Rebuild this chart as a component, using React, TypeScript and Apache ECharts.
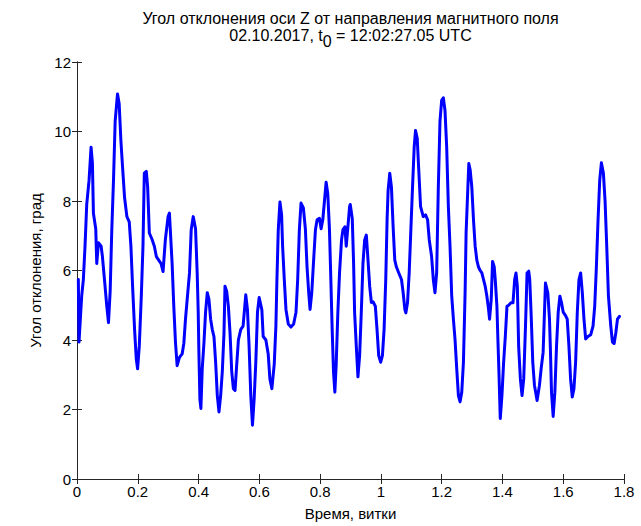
import React, { useEffect, useRef } from "react";
import * as echarts from "echarts";

const titleLine1 = "Угол отклонения оси Z от направления магнитного поля";
const titleLine2Prefix = "02.10.2017, ";
const titleLine2Var = "t";
const titleLine2Sub = "0";
const titleLine2Suffix = " = 12:02:27.05 UTC";
const xAxisName = "Время, витки";
const yAxisName = "Угол отклонения, град";

const xMin = 0;
const xMax = 1.8;
const xStep = 0.2;
const yMin = 0;
const yMax = 12;
const yStep = 2;

// time, turns
const timeTurns = [
  0.0044, 0.0066, 0.0154, 0.0209, 0.0264, 0.032, 0.0397, 0.0463, 0.0507, 0.054,
  0.0617, 0.065, 0.0705, 0.0793, 0.0837, 0.0904, 0.0981, 0.1036, 0.1091, 0.1146,
  0.1201, 0.1256, 0.1333, 0.1388, 0.1444, 0.1499, 0.1565, 0.1642, 0.1719, 0.1774,
  0.1829, 0.1895, 0.195, 0.1994, 0.205, 0.2116, 0.2171, 0.2215, 0.2281, 0.2325,
  0.238, 0.2468, 0.2545, 0.2612, 0.2689, 0.2766, 0.2832, 0.2909, 0.2997, 0.3041,
  0.313, 0.3185, 0.324, 0.3295, 0.3372, 0.346, 0.3515, 0.357, 0.3626, 0.3702,
  0.3758, 0.3824, 0.3901, 0.3956, 0.3989, 0.4011, 0.4044, 0.4077, 0.4121, 0.4176,
  0.4231, 0.4287, 0.4342, 0.4397, 0.4452, 0.4507, 0.4562, 0.4617, 0.4672, 0.4727,
  0.4782, 0.4837, 0.487, 0.4926, 0.4981, 0.5036, 0.5091, 0.5146, 0.5201, 0.5256,
  0.5311, 0.5388, 0.5465, 0.5521, 0.5554, 0.5609, 0.5664, 0.5719, 0.5774, 0.5829,
  0.5884, 0.5939, 0.5994, 0.6083, 0.6127, 0.6215, 0.6292, 0.6347, 0.6413, 0.649,
  0.6545, 0.6579, 0.6623, 0.6678, 0.6733, 0.6766, 0.6821, 0.6876, 0.6953, 0.7041,
  0.7129, 0.7207, 0.7262, 0.7317, 0.7372, 0.7449, 0.7515, 0.757, 0.7625, 0.7669,
  0.7725, 0.778, 0.7846, 0.7901, 0.7978, 0.8033, 0.8088, 0.8143, 0.8198, 0.8253,
  0.8308, 0.8353, 0.8397, 0.8441, 0.8485, 0.8529, 0.8584, 0.8639, 0.8705, 0.875,
  0.8816, 0.886, 0.8915, 0.897, 0.8992, 0.9058, 0.9102, 0.9135, 0.919, 0.9245,
  0.93, 0.9355, 0.941, 0.9466, 0.9521, 0.9576, 0.9631, 0.9686, 0.9741, 0.9818,
  0.9873, 0.9928, 0.9994, 1.005, 1.0105, 1.016, 1.0204, 1.0237, 1.0292, 1.0347,
  1.0402, 1.0457, 1.0512, 1.0589, 1.0678, 1.0733, 1.0788, 1.0821, 1.0876, 1.0931,
  1.0986, 1.1041, 1.1096, 1.114, 1.1196, 1.124, 1.1306, 1.1394, 1.1471, 1.1537,
  1.1592, 1.1669, 1.1725, 1.178, 1.1835, 1.189, 1.1945, 1.2, 1.2055, 1.211,
  1.2165, 1.222, 1.2275, 1.2331, 1.2386, 1.2441, 1.2496, 1.2551, 1.2606, 1.2661,
  1.2716, 1.2771, 1.2804, 1.2849, 1.2893, 1.2937, 1.2992, 1.3047, 1.3102, 1.3157,
  1.3212, 1.3267, 1.3322, 1.3377, 1.3432, 1.3488, 1.3543, 1.3576, 1.3631, 1.3675,
  1.373, 1.3763, 1.3818, 1.3851, 1.3884, 1.3928, 1.3983, 1.4039, 1.4094, 1.4149,
  1.4204, 1.4281, 1.4347, 1.4402, 1.4446, 1.449, 1.4534, 1.459, 1.4645, 1.47,
  1.4755, 1.481, 1.4865, 1.4898, 1.4942, 1.4998, 1.5053, 1.514, 1.5218, 1.5273,
  1.5339, 1.5383, 1.5416, 1.5493, 1.5548, 1.5581, 1.5614, 1.5669, 1.5725, 1.578,
  1.5835, 1.589, 1.5945, 1.6, 1.6077, 1.6132, 1.6187, 1.6242, 1.6298, 1.6353,
  1.6408, 1.6463, 1.6518, 1.6573, 1.6628, 1.6683, 1.6738, 1.6815, 1.6904, 1.6981,
  1.7036, 1.7091, 1.7146, 1.7201, 1.7256, 1.7322, 1.7377, 1.7432, 1.7488, 1.7565,
  1.762, 1.7675, 1.773, 1.7785, 1.7851,
];

// deflection angle, degrees
const angleDeg = [
  5.74, 3.94, 5.26, 5.74, 6.7, 7.9, 8.6, 9.55, 9.1, 7.65,
  7.2, 6.2, 6.8, 6.7, 6.4, 5.74, 4.97, 4.5, 5.4, 7.2,
  8.6, 10.3, 11.08, 10.8, 9.74, 8.98, 8.1, 7.55, 7.4, 6.7,
  5.55, 4.3, 3.46, 3.17, 3.83, 5.26, 6.7, 8.8, 8.85, 8.4,
  7.08, 6.9, 6.7, 6.4, 6.3, 6.2, 5.97, 6.9, 7.55, 7.65,
  6.2, 4.97, 3.94, 3.26, 3.5, 3.6, 3.9, 4.6, 5.17, 5.93,
  7.17, 7.55, 7.2, 5.9, 4.8, 3.65, 2.3, 2.03, 3.17, 3.9,
  4.8, 5.36, 5.17, 4.6, 4.3, 4.1, 3.36, 2.4, 1.93, 2.4,
  3.1, 4.2, 5.55, 5.4, 4.97, 4.2, 3.1, 2.6, 2.55, 3.3,
  4.0, 4.3, 4.4, 4.97, 5.3, 4.87, 3.8, 2.4, 1.55, 2.3,
  3.36, 4.8, 5.22, 4.87, 4.1, 4.0, 3.6, 2.88, 2.6, 3.3,
  4.4, 5.74, 7.17, 7.97, 7.6, 6.7, 5.74, 4.88, 4.46, 4.37,
  4.46, 4.8, 5.74, 7.17, 7.94, 7.8, 7.2, 6.1, 5.36, 4.88,
  5.36, 6.2, 7.17, 7.46, 7.5, 7.2, 7.46, 8.0, 8.54, 8.2,
  7.17, 5.74, 4.3, 3.08, 2.5, 3.3, 4.8, 5.93, 6.88, 7.17,
  7.26, 6.7, 7.26, 7.84, 7.9, 7.5, 6.2, 4.8, 3.83, 2.94,
  3.55, 4.8, 6.2, 6.88, 7.02, 6.3, 5.55, 5.08, 5.1, 4.97,
  4.3, 3.55, 3.36, 3.55, 4.3, 5.74, 7.46, 8.3, 8.8, 8.4,
  7.27, 6.3, 6.1, 5.93, 5.74, 5.36, 4.88, 4.78, 5.07, 5.93,
  7.17, 8.4, 9.55, 10.03, 9.8, 9.0, 7.84, 7.55, 7.6, 7.46,
  6.88, 6.4, 5.74, 5.36, 5.93, 8.4, 10.3, 10.9, 10.97, 10.6,
  9.55, 7.84, 6.7, 5.26, 4.6, 4.0, 3.17, 2.4, 2.22, 2.5,
  3.36, 5.36, 7.08, 8.1, 9.08, 8.9, 8.4, 7.46, 6.7, 6.3,
  6.1, 6.0, 5.93, 5.74, 5.55, 5.26, 4.88, 4.6, 5.17, 6.26,
  6.1, 5.74, 4.97, 4.0, 3.1, 1.74, 2.4, 3.36, 4.1, 4.97,
  5.0, 5.07, 5.07, 5.74, 5.93, 5.55, 3.8, 2.88, 2.4, 2.88,
  4.3, 5.93, 5.98, 5.74, 4.8, 3.36, 2.7, 2.26, 2.7, 3.17,
  3.65, 4.8, 5.64, 5.36, 4.6, 3.65, 2.5, 1.8, 2.5, 3.83,
  4.8, 5.26, 5.07, 4.8, 4.7, 4.6, 3.83, 2.88, 2.36, 2.6,
  3.36, 4.8, 5.74, 5.93, 5.36, 4.6, 4.03, 4.1, 4.15, 4.4,
  4.97, 6.1, 7.46, 8.6, 9.1, 8.8, 8.0, 6.7, 5.26, 4.4,
  3.94, 3.9, 4.2, 4.6, 4.68,
];

const W = 641;
const H = 526;
const gridLeft = 77;
const gridRight = 17;
const gridTop = 62;
const gridBottom = 45;
const frameColor = "#262626";
const fontFamily = "'Liberation Sans', Arial, sans-serif";
const titleSize = 16;
const labelSize = 15;

export default function App() {
  const ref = useRef<HTMLDivElement>(null);

  useEffect(() => {
    if (!ref.current) return;
    const chart = echarts.init(ref.current, undefined, { renderer: "svg" });
    const data = timeTurns.map((t, i) => [t, angleDeg[i]]);
    const plotCenterX = gridLeft + (W - gridLeft - gridRight) / 2;

    const axisCommon = {
      axisLine: { show: true, lineStyle: { color: frameColor, width: 1 } },
      axisTick: { show: true, inside: true, length: 5, lineStyle: { color: frameColor } },
      splitLine: { show: false },
    };

    chart.setOption({
      animation: false,
      backgroundColor: "#ffffff",
      textStyle: { fontFamily },
      grid: { left: gridLeft, right: gridRight, top: gridTop, bottom: gridBottom, containLabel: false },
      graphic: [
        {
          type: "text",
          x: plotCenterX,
          y: 18,
          style: {
            text: titleLine1,
            textAlign: "center",
            textVerticalAlign: "middle",
            fontSize: titleSize,
            fontFamily,
            fill: "#000",
          },
        },
        {
          type: "text",
          x: plotCenterX,
          y: 27,
          style: {
            text:
              "{n|" + titleLine2Prefix + titleLine2Var + "}{s|" + titleLine2Sub + "}{n|" + titleLine2Suffix + "}",
            textAlign: "center",
            textVerticalAlign: "top",
            fontFamily,
            fill: "#000",
            rich: {
              n: { fontSize: titleSize, fontFamily, lineHeight: 17, verticalAlign: "top", fill: "#000" },
              s: { fontSize: titleSize, fontFamily, lineHeight: 17, padding: [6, 0, 0, 0], verticalAlign: "top", fill: "#000" },
            },
          },
        },
      ],
      xAxis: [
        {
          type: "value",
          min: xMin,
          max: xMax,
          interval: xStep,
          position: "bottom",
          name: xAxisName,
          nameLocation: "middle",
          nameGap: 27,
          nameTextStyle: { fontSize: labelSize, color: "#000", fontFamily },
          axisLabel: { fontSize: labelSize, color: "#000", margin: 5, fontFamily },
          ...axisCommon,
        },
        {
          type: "value",
          min: xMin,
          max: xMax,
          interval: xStep,
          position: "top",
          axisLabel: { show: false },
          ...axisCommon,
        },
      ],
      yAxis: [
        {
          type: "value",
          min: yMin,
          max: yMax,
          interval: yStep,
          position: "left",
          name: yAxisName,
          nameLocation: "middle",
          nameGap: 34,
          nameTextStyle: { fontSize: labelSize, color: "#000", fontFamily },
          axisLabel: { fontSize: labelSize, color: "#000", margin: 6, fontFamily },
          ...axisCommon,
        },
        {
          type: "value",
          min: yMin,
          max: yMax,
          interval: yStep,
          position: "right",
          axisLabel: { show: false },
          ...axisCommon,
        },
      ],
      series: [
        {
          type: "line",
          xAxisIndex: 0,
          yAxisIndex: 0,
          data,
          showSymbol: false,
          symbol: "none",
          smooth: false,
          lineStyle: { color: "#0000ff", width: 3, join: "round", cap: "round" },
          itemStyle: { color: "#0000ff" },
        },
      ],
    });

    return () => chart.dispose();
  }, []);

  return (
    <div
      ref={ref}
      style={{ position: "absolute", left: 0, top: 0, width: W, height: H, background: "#fff" }}
    />
  );
}
